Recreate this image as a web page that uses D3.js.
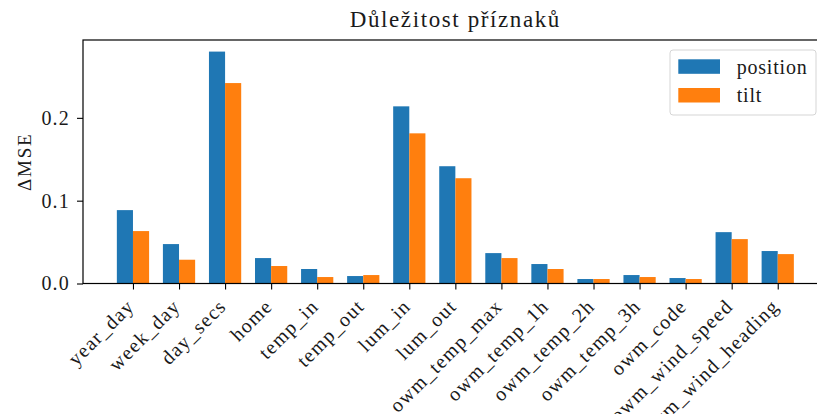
<!DOCTYPE html>
<html>
<head>
<meta charset="utf-8">
<script src="https://cdn.jsdelivr.net/npm/d3@7"></script>
<style>
  body { margin: 0; background: #fff; }
  svg { display: block; }
  svg text { font-family: "Liberation Serif", "DejaVu Serif", serif; fill: #1a1a1a; }
</style>
</head>
<body>
<div id="chart"></div>
<script>
// Feature names and importance (delta MSE) for each model
var features = ["year_day", "week_day", "day_secs", "home", "temp_in", "temp_out",
  "lum_in", "lum_out", "owm_temp_max", "owm_temp_1h", "owm_temp_2h", "owm_temp_3h",
  "owm_code", "owm_wind_speed", "owm_wind_heading"];
var positionValues = [0.0886, 0.0476, 0.280, 0.0307, 0.0175, 0.009, 0.2139, 0.1416,
  0.0367, 0.0235, 0.0054, 0.0102, 0.0066, 0.062, 0.0392];
var tiltValues = [0.0633, 0.0287, 0.242, 0.0211, 0.0078, 0.0102, 0.1813, 0.1271,
  0.0307, 0.0175, 0.0054, 0.0078, 0.0054, 0.0536, 0.0355];
var seriesNames = ["position", "tilt"];
var yTicks = [0.0, 0.1, 0.2];

function init() {
  var w = 817, h = 414;
  var margin = { top: 40, left: 83 };
  var barW = 0.35;
  var fs = 20;

  var svg = d3.select("#chart").append("svg")
    .attr("width", w)
    .attr("height", h);

  var color = d3.scaleOrdinal().domain(seriesNames).range(["#1f77b4", "#ff7f0e"]);

  // matplotlib style limits: bars span [i-0.35, i+0.35], plus 5% margin
  var xmin = -barW, xmax = features.length - 1 + barW;
  var pad = (xmax - xmin) * 0.05;
  var x = d3.scaleLinear()
    .domain([xmin - pad, xmax + pad])
    .range([margin.left, 827.7]);

  var ymax = d3.max(positionValues.concat(tiltValues)) * 1.05;
  var y = d3.scaleLinear()
    .domain([0, ymax])
    .range([283.5, margin.top]);

  // bars
  var series = [positionValues, tiltValues];
  series.forEach(function (vals, s) {
    svg.append("g").attr("fill", color(seriesNames[s]))
      .selectAll("rect")
      .data(vals)
      .enter()
      .append("rect")
      .attr("x", function (d, i) { return x(i + (s === 0 ? -barW : 0)); })
      .attr("width", x(barW) - x(0))
      .attr("y", function (d) { return y(d); })
      .attr("height", function (d) { return y(0) - y(d); });
  });

  // axes
  var xAxis = d3.axisBottom(x)
    .tickValues(d3.range(features.length))
    .tickFormat(function (i) { return features[i]; })
    .tickSize(6)
    .tickSizeOuter(0);

  var gx = svg.append("g")
    .attr("transform", "translate(0," + y(0) + ")")
    .call(xAxis)
    .attr("font-family", null)
    .attr("font-size", fs);
  gx.select(".domain").remove();
  gx.selectAll("line").attr("stroke", "#000").attr("stroke-width", 1.1);
  gx.selectAll("text")
    .attr("fill", null)
    .attr("letter-spacing", 1.3)
    .attr("text-anchor", "end")
    .attr("dy", "0.35em")
    .attr("transform", "translate(-3,19) rotate(-45)")
    .attr("x", 0)
    .attr("y", 0);

  var gy = svg.append("g")
    .attr("transform", "translate(" + margin.left + ",0)")
    .call(d3.axisLeft(y).tickValues(yTicks).tickFormat(d3.format(".1f")).tickSize(6).tickSizeOuter(0))
    .attr("font-family", null)
    .attr("font-size", fs);
  gy.select(".domain").remove();
  gy.selectAll("line").attr("stroke", "#000").attr("stroke-width", 1.1);
  gy.selectAll("text").attr("fill", null).attr("letter-spacing", 1.2).attr("x", -13);

  // spines
  var x0 = x.range()[0], x1 = x.range()[1];
  svg.append("rect")
    .attr("x", x0).attr("y", y(ymax))
    .attr("width", x1 - x0).attr("height", y(0) - y(ymax))
    .attr("fill", "none").attr("stroke", "#000").attr("stroke-width", 1.2);

  // title and y label
  svg.append("text")
    .attr("x", (x0 + x1) / 2)
    .attr("y", 27)
    .attr("text-anchor", "middle")
    .attr("font-size", 23)
    .attr("letter-spacing", 1.6)
    .text("Důležitost příznaků");

  svg.append("text")
    .attr("transform", "translate(31," + ((y(0) + y(ymax)) / 2) + ") rotate(-90)")
    .attr("text-anchor", "middle")
    .attr("font-size", 19)
    .attr("letter-spacing", 1.8)
    .text("ΔMSE");

  // legend
  var leg = svg.append("g");
  leg.append("rect")
    .attr("x", 670).attr("y", 50)
    .attr("width", 146).attr("height", 65)
    .attr("rx", 3)
    .attr("fill", "#fff").attr("fill-opacity", 0.8)
    .attr("stroke", "#d5d5d5").attr("stroke-width", 1);
  seriesNames.forEach(function (name, k) {
    leg.append("rect")
      .attr("x", 678.3).attr("y", 59.3 + k * 28.7)
      .attr("width", 41.7).attr("height", 14.5)
      .attr("fill", color(name));
    leg.append("text")
      .attr("x", 736.7).attr("y", 73.5 + k * 28.7)
      .attr("font-size", fs)
      .attr("letter-spacing", 0.8)
      .text(name);
  });
}
window.onload = init;
</script>
</body>
</html>
